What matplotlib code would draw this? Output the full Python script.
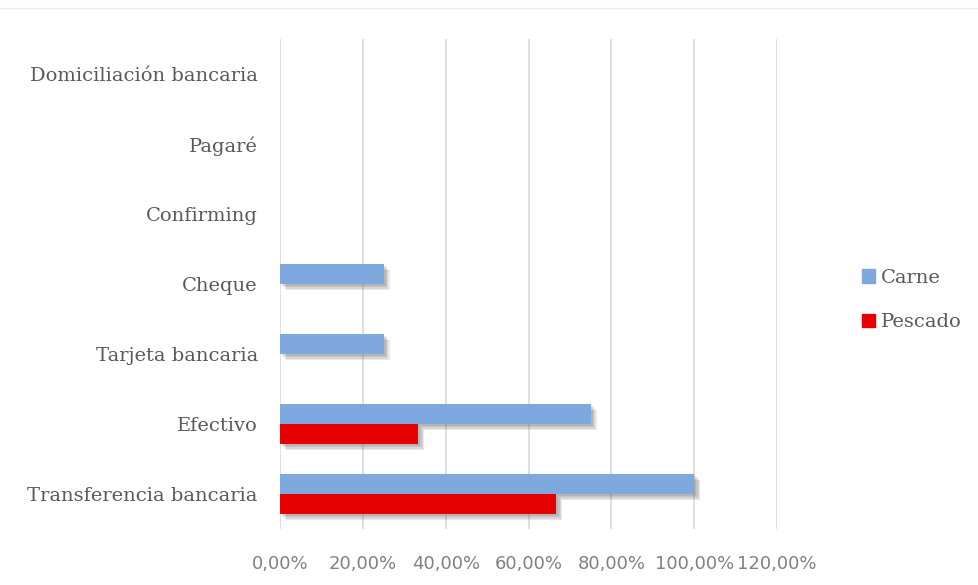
import matplotlib.pyplot as plt
import matplotlib.patheffects as pe
import matplotlib.ticker as mticker
from matplotlib.patches import Patch
import numpy as np

categorias = ["Transferencia bancaria", "Efectivo", "Tarjeta bancaria", "Cheque",
              "Confirming", "Pagaré", "Domiciliación bancaria"]
carne = [1.0, 0.75, 0.25, 0.25, 0.0, 0.0, 0.0]
pescado = [0.6667, 0.3333, 0.0, 0.0, 0.0, 0.0, 0.0]
xticks = [0.0, 0.2, 0.4, 0.6, 0.8, 1.0, 1.2]

color_carne = "#7FA8DE"
color_pescado = "#E60000"
texto = "#595959"

fig = plt.figure(figsize=(9.79, 5.85), dpi=100)
ax = fig.add_axes([280 / 979, 56 / 585, 497 / 979, 490 / 585])

y = np.arange(len(categorias))
h = 0.286
# sombra difusa: varias capas desplazadas con poca opacidad
sombra = [pe.SimplePatchShadow(offset=(d, -d), shadow_rgbFace="#555555", alpha=0.13)
          for d in (4.5, 3.5, 2.5, 1.5)] + [pe.Normal()]

b1 = ax.barh(y + h / 2, carne, height=h, color=color_carne, zorder=3)
b2 = ax.barh(y - h / 2, pescado, height=h, color=color_pescado, zorder=3)
for barras in (b1, b2):
    for r in barras:
        if r.get_width() > 0:
            r.set_path_effects(sombra)

ax.set_xlim(0, 1.2)
ax.set_ylim(-0.5, len(categorias) - 0.5)
ax.set_xticks(xticks)
ax.xaxis.set_major_formatter(mticker.FuncFormatter(lambda v, p: f"{v * 100:.2f}%".replace(".", ",")))
ax.set_yticks(y)
ax.set_yticklabels(categorias, fontsize=14, family="DejaVu Serif", color=texto)
for lab in ax.get_xticklabels():
    lab.set_fontsize(13)
    lab.set_family("DejaVu Sans")
    lab.set_color("#808080")
ax.tick_params(axis="both", length=0)
ax.tick_params(axis="x", pad=19)
ax.tick_params(axis="y", pad=16)

ax.grid(axis="x", color="#D9D9D9", linewidth=1.2, zorder=0)
for s in ax.spines.values():
    s.set_visible(False)

handles = [Patch(color=color_carne, label="Carne"), Patch(color=color_pescado, label="Pescado")]
ax.legend(handles=handles, loc="center left", bbox_to_anchor=(1.135, 0.467), frameon=False,
          prop={"family": "DejaVu Serif", "size": 14}, labelcolor=texto,
          handlelength=0.7, handleheight=0.7, handletextpad=0.3, labelspacing=1.35)

fig.add_artist(plt.Line2D([0, 1], [577 / 585, 577 / 585], color="#EEEEEE", linewidth=1))

fig.savefig("out.png", dpi=100)
